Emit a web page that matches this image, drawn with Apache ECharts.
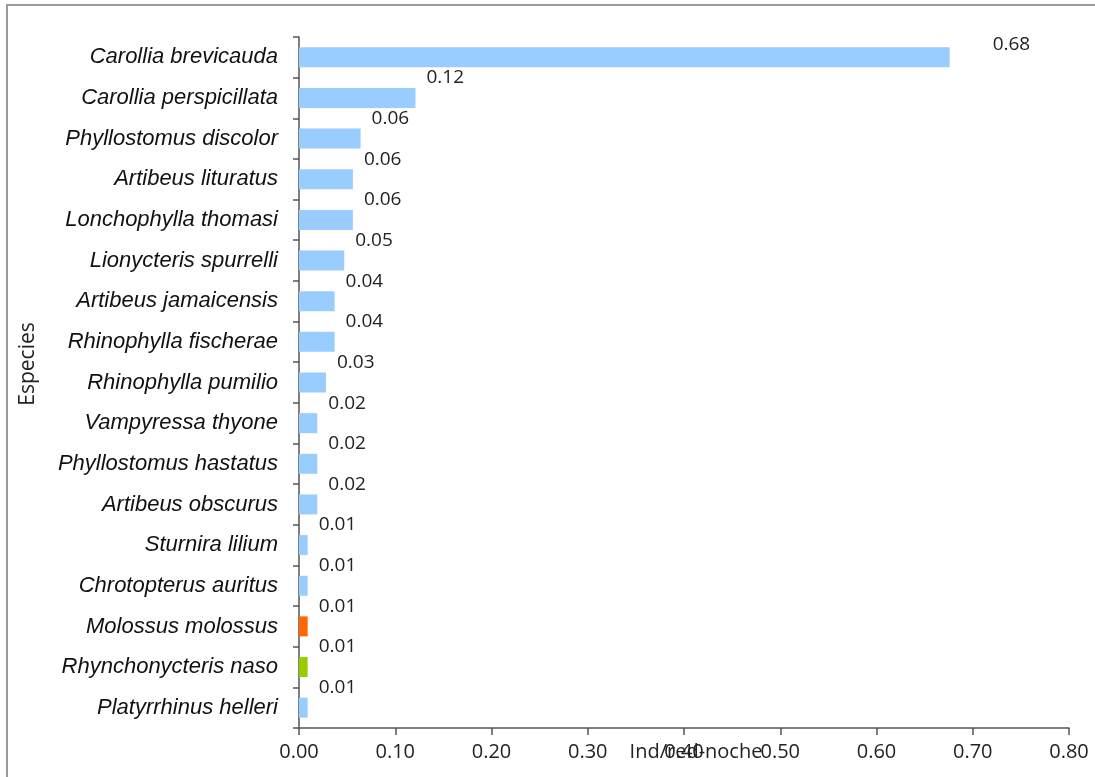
<!DOCTYPE html>
<html>
<head>
<meta charset="utf-8">
<script src="https://cdn.jsdelivr.net/npm/echarts@6/dist/echarts.min.js"></script>
<style>
  html, body { margin: 0; padding: 0; background: #fff; }
  #chart { width: 1095px; height: 777px; }
</style>
</head>
<body>
<div id="chart"></div>
<script>
// Bat species captured and their relative abundance (individuals per net-night)
const species = [
  'Carollia brevicauda',
  'Carollia perspicillata',
  'Phyllostomus discolor',
  'Artibeus lituratus',
  'Lonchophylla thomasi',
  'Lionycteris spurrelli',
  'Artibeus jamaicensis',
  'Rhinophylla fischerae',
  'Rhinophylla pumilio',
  'Vampyressa thyone',
  'Phyllostomus hastatus',
  'Artibeus obscurus',
  'Sturnira lilium',
  'Chrotopterus auritus',
  'Molossus molossus',
  'Rhynchonycteris naso',
  'Platyrrhinus helleri'
];
const abundance = [
  0.676, 0.121, 0.064, 0.056, 0.056, 0.047, 0.037, 0.037, 0.028,
  0.019, 0.019, 0.019, 0.009, 0.009, 0.009, 0.009, 0.009
];
const xTicks = { min: 0, max: 0.8, step: 0.1 };

// Non-phyllostomid species get their own colour
const baseColor = '#99CCFF';
const accentColor = {
  'Molossus molossus': '#FF6600',
  'Rhynchonycteris naso': '#99CC00'
};

const chart = echarts.init(document.getElementById('chart'), null, { renderer: 'canvas' });

const barData = abundance.map((v, i) => {
  const item = {
    value: v,
    itemStyle: { color: accentColor[species[i]] || baseColor }
  };
  if (i === 0) item.label = { offset: [32, -13] };
  return item;
});

chart.setOption({
  animation: false,
  backgroundColor: '#ffffff',
  grid: { left: 299, right: 26, top: 37, bottom: 49, containLabel: false, outerBoundsMode: 'none' },
  graphic: [
    {
      type: 'rect',
      shape: { x: 7, y: 5, width: 1300, height: 1000 },
      style: { fill: 'none', stroke: '#9a9a9a', lineWidth: 2 },
      silent: true
    },
    {
      type: 'text',
      x: 28, y: 364,
      rotation: Math.PI / 2,
      style: {
        text: 'Especies',
        font: '21px "Open Sans"',
        fill: '#222',
        textAlign: 'center',
        textVerticalAlign: 'middle'
      }
    }
  ],
  xAxis: {
    type: 'value',
    min: xTicks.min,
    max: xTicks.max,
    interval: xTicks.step,
    name: 'Ind/red-noche',
    nameLocation: 'middle',
    nameGap: 14,
    nameMoveOverlap: false,
    nameTextStyle: { fontFamily: 'Open Sans', fontSize: 20, color: '#222', padding: [0, 0, 0, 24] },
    axisLine: { show: true, lineStyle: { color: '#555', width: 1.5 } },
    axisTick: { show: true, length: 7, lineStyle: { color: '#555', width: 1.5 } },
    splitLine: { show: false },
    axisLabel: {
      margin: 14,
      fontFamily: 'Open Sans',
      fontSize: 20,
      color: '#222',
      formatter: v => v.toFixed(2)
    }
  },
  yAxis: {
    type: 'category',
    data: species,
    inverse: true,
    axisLine: { show: true, lineStyle: { color: '#555', width: 1.5 } },
    axisTick: { show: true, length: 6, lineStyle: { color: '#555', width: 1.5 } },
    axisLabel: {
      margin: 21,
      fontFamily: 'Liberation Sans',
      fontStyle: 'italic',
      fontSize: 22,
      color: '#111'
    }
  },
  series: [{
    type: 'bar',
    data: barData,
    barWidth: 20,
    label: {
      show: true,
      position: 'right',
      distance: 11,
      offset: [0, -20],
      fontFamily: 'Open Sans',
      fontSize: 19,
      color: '#222',
      formatter: p => p.value.toFixed(2)
    }
  }]
});
</script>
</body>
</html>
